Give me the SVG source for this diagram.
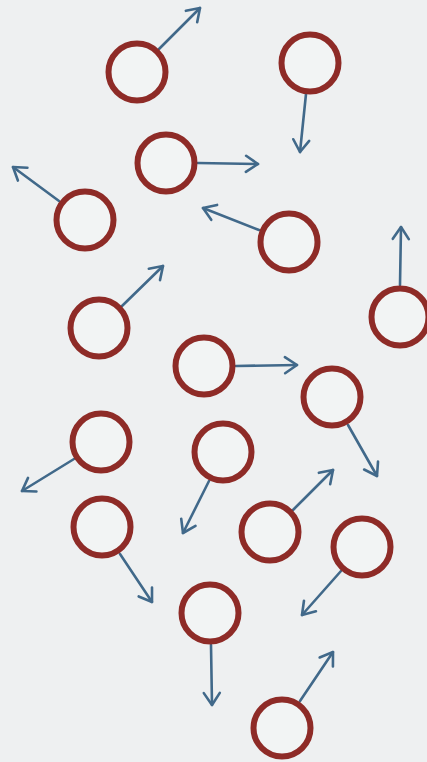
<svg xmlns="http://www.w3.org/2000/svg" width="427" height="762" viewBox="0 0 427 762">
<defs>
<style>
.c{fill:#f2f4f4;stroke:#8e2b27;stroke-width:6}
.a{fill:none;stroke:#41698a;stroke-width:2.6;stroke-linecap:round;marker-end:url(#ah)}
</style>
<marker id="ah" markerUnits="userSpaceOnUse" markerWidth="30" markerHeight="30" viewBox="-15 -15 30 30" refX="0" refY="0" orient="auto">
<path d="M-12,-8 L0,0 L-12,8" fill="none" stroke="#41698a" stroke-width="2.6" stroke-linecap="round" stroke-linejoin="round"/>
</marker>
</defs>
<rect width="427" height="762" fill="#eef0f1"/>
<g id="connectors">
<line class="a" x1="159" y1="49" x2="200" y2="8"/>
<line class="a" x1="306" y1="94" x2="300" y2="152"/>
<line class="a" x1="198" y1="163" x2="258" y2="164"/>
<line class="a" x1="59" y1="201" x2="13" y2="167"/>
<line class="a" x1="259" y1="230" x2="203" y2="208"/>
<line class="a" x1="400" y1="285" x2="401" y2="227"/>
<line class="a" x1="122" y1="306" x2="163" y2="266"/>
<line class="a" x1="236" y1="366" x2="297" y2="365"/>
<line class="a" x1="348" y1="425" x2="377" y2="476"/>
<line class="a" x1="74" y1="459" x2="22" y2="491"/>
<line class="a" x1="209" y1="481" x2="183" y2="533"/>
<line class="a" x1="120" y1="554" x2="152" y2="602"/>
<line class="a" x1="293" y1="510" x2="333" y2="470"/>
<line class="a" x1="341" y1="571" x2="302" y2="615"/>
<line class="a" x1="211" y1="645" x2="212" y2="705"/>
<line class="a" x1="300" y1="701" x2="333" y2="652"/>
</g>
<g id="n1"><circle class="c" cx="137" cy="72" r="28.5"/></g>
<g id="n2"><circle class="c" cx="310" cy="63" r="28.5"/></g>
<g id="n3"><circle class="c" cx="166" cy="163" r="28.5"/></g>
<g id="n4"><circle class="c" cx="85" cy="220" r="28.5"/></g>
<g id="n5"><circle class="c" cx="289" cy="242" r="28.5"/></g>
<g id="n6"><circle class="c" cx="400" cy="317" r="28.5"/></g>
<g id="n7"><circle class="c" cx="99" cy="328" r="28.5"/></g>
<g id="n8"><circle class="c" cx="204" cy="366" r="28.5"/></g>
<g id="n9"><circle class="c" cx="332" cy="397" r="28.5"/></g>
<g id="n10"><circle class="c" cx="101" cy="442" r="28.5"/></g>
<g id="n11"><circle class="c" cx="223" cy="452" r="28.5"/></g>
<g id="n12"><circle class="c" cx="102" cy="527" r="28.5"/></g>
<g id="n13"><circle class="c" cx="270" cy="532" r="28.5"/></g>
<g id="n14"><circle class="c" cx="362" cy="547" r="28.5"/></g>
<g id="n15"><circle class="c" cx="210" cy="613" r="28.5"/></g>
<g id="n16"><circle class="c" cx="282" cy="728" r="28.5"/></g>
</svg>
